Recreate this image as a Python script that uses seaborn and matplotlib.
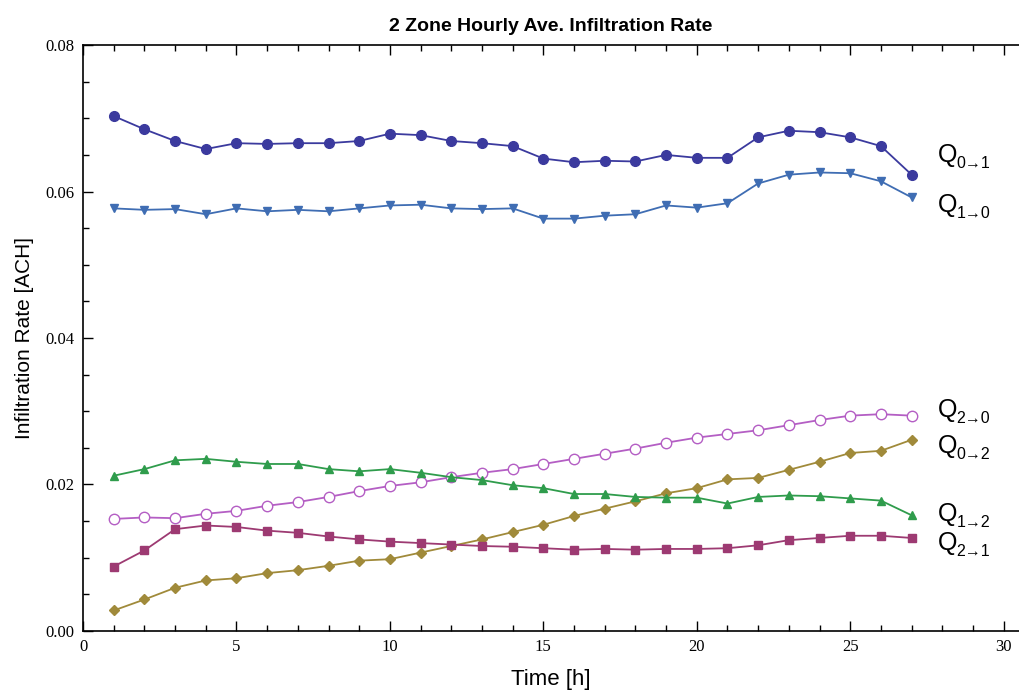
import numpy as np
import pandas as pd
import seaborn as sns
import matplotlib.pyplot as plt
from matplotlib.ticker import MultipleLocator

hours = list(range(1, 28))

q01 = [0.0703, 0.0685, 0.0669, 0.0658, 0.0666, 0.0665, 0.0666, 0.0666, 0.0669, 0.0679,
       0.0677, 0.0669, 0.0666, 0.0662, 0.0645, 0.0640, 0.0642, 0.0641, 0.0650, 0.0646,
       0.0646, 0.0674, 0.0683, 0.0681, 0.0674, 0.0662, 0.0623]
q10 = [0.0577, 0.0575, 0.0576, 0.0569, 0.0577, 0.0573, 0.0575, 0.0573, 0.0577, 0.0581,
       0.0582, 0.0577, 0.0576, 0.0577, 0.0563, 0.0563, 0.0567, 0.0569, 0.0581, 0.0578,
       0.0584, 0.0611, 0.0623, 0.0626, 0.0625, 0.0614, 0.0592]
q20 = [0.0153, 0.0155, 0.0154, 0.0160, 0.0164, 0.0171, 0.0176, 0.0183, 0.0191, 0.0198,
       0.0203, 0.0210, 0.0216, 0.0221, 0.0228, 0.0235, 0.0242, 0.0249, 0.0257, 0.0264,
       0.0269, 0.0274, 0.0281, 0.0288, 0.0294, 0.0296, 0.0294]
q02 = [0.0028, 0.0043, 0.0059, 0.0069, 0.0072, 0.0079, 0.0083, 0.0089, 0.0096, 0.0098,
       0.0107, 0.0116, 0.0125, 0.0135, 0.0145, 0.0157, 0.0167, 0.0177, 0.0188, 0.0195,
       0.0207, 0.0209, 0.0220, 0.0231, 0.0243, 0.0246, 0.0261]
q12 = [0.0212, 0.0221, 0.0233, 0.0235, 0.0231, 0.0228, 0.0228, 0.0221, 0.0218, 0.0221,
       0.0216, 0.0210, 0.0206, 0.0199, 0.0195, 0.0187, 0.0187, 0.0183, 0.0182, 0.0182,
       0.0174, 0.0183, 0.0185, 0.0184, 0.0181, 0.0178, 0.0158]
q21 = [0.0088, 0.0110, 0.0139, 0.0144, 0.0142, 0.0137, 0.0134, 0.0129, 0.0125, 0.0122,
       0.0120, 0.0118, 0.0116, 0.0115, 0.0113, 0.0111, 0.0112, 0.0111, 0.0112, 0.0112,
       0.0113, 0.0117, 0.0124, 0.0127, 0.0130, 0.0130, 0.0127]

subs = ["0\u21921", "1\u21920", "2\u21920", "0\u21922", "1\u21922", "2\u21921"]
label_y = [0.0650, 0.0582, 0.0302, 0.0252, 0.0160, 0.0120]

series = [
    (q01, "#3b3a9e", "o", 7, True),
    (q10, "#3f6db3", "v", 6, True),
    (q20, "#b45ec4", "o", 7.5, False),
    (q02, "#a08a3a", "D", 5, True),
    (q12, "#2f9c4c", "^", 6, True),
    (q21, "#9d3a72", "s", 5.8, True),
]

sns.set_style("ticks")
fig = plt.figure(figsize=(10.19, 6.93), dpi=100)
ax = fig.add_axes([0.0815, 0.0895, 0.9185, 0.8455])

for vals, col, mk, ms, filled in series:
    df = pd.DataFrame({"t": hours, "q": vals})
    sns.lineplot(data=df, x="t", y="q", ax=ax, color=col, lw=1.3, marker=mk, ms=ms,
                 markeredgecolor=col, markerfacecolor=col if filled else "white",
                 markeredgewidth=1.0)

for sub, yv in zip(subs, label_y):
    ax.annotate("Q", (27.85, yv), fontsize=18, va="center", ha="left",
                family="Liberation Sans", color="black")
    ax.annotate(sub, (27.85, yv), xytext=(13.5, -6), textcoords="offset points",
                fontsize=11.5, va="center", ha="left", family="Liberation Sans", color="black")

ax.set_xlim(0, 30.5)
ax.set_ylim(0, 0.08)
ax.xaxis.set_major_locator(MultipleLocator(5))
ax.xaxis.set_minor_locator(MultipleLocator(1))
ax.yaxis.set_major_locator(MultipleLocator(0.02))
ax.yaxis.set_minor_locator(MultipleLocator(0.005))
ax.yaxis.set_major_formatter(plt.FuncFormatter(lambda v, p: f"{v:.2f}"))
ax.tick_params(which="both", direction="in", top=True, right=False, width=1, color="black",
               labelcolor="black")
ax.tick_params(which="major", length=7, labelsize=12, pad=6)
ax.tick_params(which="minor", length=4)
for lbl in ax.get_xticklabels() + ax.get_yticklabels():
    lbl.set_family("Liberation Serif")
for s in ["left", "bottom", "top"]:
    ax.spines[s].set_linewidth(1.2)
    ax.spines[s].set_color("black")
ax.spines["right"].set_visible(False)

ax.set_xlabel("Time [h]", fontsize=16, family="Liberation Sans", labelpad=10, color="black")
ax.set_ylabel("Infiltration Rate [ACH]", fontsize=15, family="Liberation Sans", labelpad=8,
              color="black")
ax.set_title("2 Zone Hourly Ave. Infiltration Rate", fontsize=14, fontweight="bold",
             family="Liberation Sans", pad=10, color="black")

fig.savefig("out.png", dpi=100)
